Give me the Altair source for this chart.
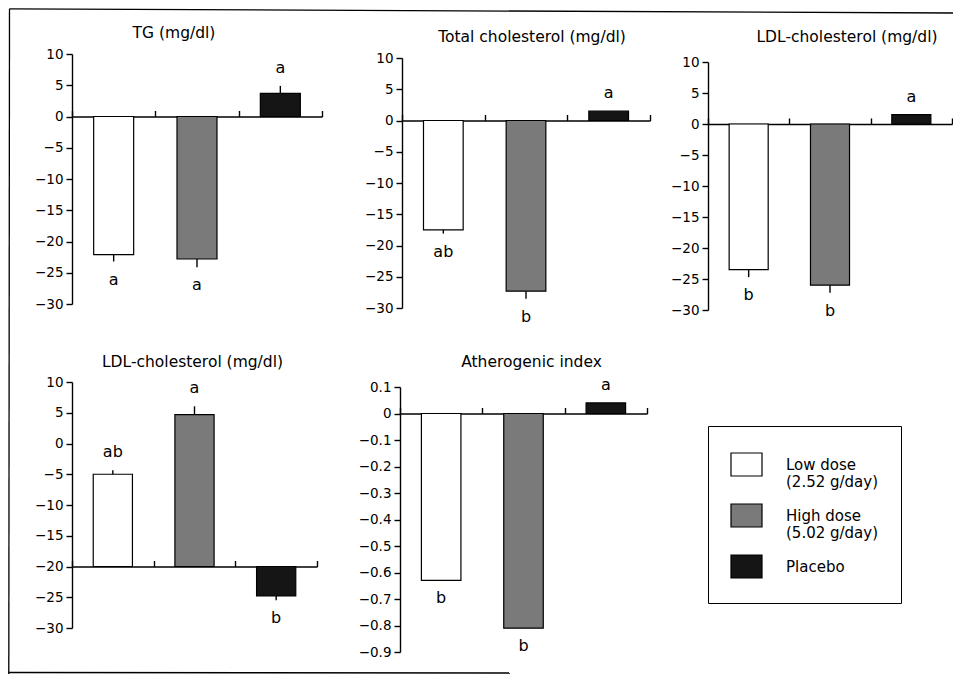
import altair as alt
import pandas as pd

# ---------------- data ----------------
groups = ["Low dose", "High dose", "Placebo"]
doses = ["(2.52 g/day)", "(5.02 g/day)", ""]
fills = ["#ffffff", "#7a7a7a", "#151515"]

titles = ["TG (mg/dl)", "Total cholesterol (mg/dl)", "LDL-cholesterol (mg/dl)",
          "LDL-cholesterol (mg/dl)", "Atherogenic index"]

tg_values = [-22.1, -22.8, 3.7]
tg_errors = [1.1, 1.3, 1.2]
tg_letters = ["a", "a", "a"]

tc_values = [-17.5, -27.3, 1.5]
tc_errors = [0.6, 1.2, 0.0]
tc_letters = ["ab", "b", "a"]

ldl_values = [-23.5, -26.0, 1.5]
ldl_errors = [1.2, 1.2, 0.0]
ldl_letters = ["b", "b", "a"]

ldl2_values = [-5.0, 4.7, -24.8]
ldl2_errors = [0.65, 1.35, 0.7]
ldl2_letters = ["ab", "a", "b"]

ai_values = [-0.63, -0.81, 0.04]
ai_errors = [0.0, 0.0, 0.0]
ai_letters = ["b", "b", "a"]

mgdl_ticks = [10, 5, 0, -5, -10, -15, -20, -25, -30]
ai_ticks = [0.1, 0, -0.1, -0.2, -0.3, -0.4, -0.5, -0.6, -0.7, -0.8, -0.9]

# ---------------- layout (pixels in chart coordinates) ----------------
W, H = 945, 666
FONT = "DejaVu Sans"
LW = 1.4

panels = [
    dict(vals=tg_values, errs=tg_errors, letters=tg_letters, dom=(-30, 10), base=0,
         ticks=mgdl_ticks, fmt="d", xr=(64, 314), yr=(46, 296), tdx=-23, tdy=-21),
    dict(vals=tc_values, errs=tc_errors, letters=tc_letters, dom=(-30, 10), base=0,
         ticks=mgdl_ticks, fmt="d", xr=(394, 642), yr=(50, 300), tdx=6, tdy=-21),
    dict(vals=ldl_values, errs=ldl_errors, letters=ldl_letters, dom=(-30, 10), base=0,
         ticks=mgdl_ticks, fmt="d", xr=(700, 944), yr=(54, 302), tdx=17, tdy=-25),
    dict(vals=ldl2_values, errs=ldl2_errors, letters=ldl2_letters, dom=(-30, 10), base=-20,
         ticks=mgdl_ticks, fmt="d", xr=(64, 309), yr=(374, 620), tdx=-2, tdy=-20),
    dict(vals=ai_values, errs=ai_errors, letters=ai_letters, dom=(-0.9, 0.1), base=0,
         ticks=ai_ticks, fmt=".1~f", xr=(392, 639), yr=(379, 644), tdx=8, tdy=-25),
]

parts = [f"datum.label === '{g}' ? ['{g}', '{d}']" for g, d in zip(groups, doses) if d]
label_expr = " : ".join(parts) + " : datum.label"

fill_enc = alt.Fill(
    "group:N", sort=groups,
    scale=alt.Scale(domain=groups, range=fills),
    legend=alt.Legend(
        orient="none", legendX=700, legendY=418, title=None,
        strokeColor="black", padding=22,
        symbolType="M-1,-0.742L1,-0.742L1,0.742L-1,0.742Z", symbolSize=961,
        symbolStrokeColor="black", symbolStrokeWidth=1.2,
        labelFont=FONT, labelFontSize=15, labelColor="black",
        labelOffset=23, rowPadding=9, labelExpr=label_expr,
    ),
)


def make_panel(title, p):
    lo, hi = p["dom"]
    base = p["base"]
    x0, x1 = p["xr"]
    ytop, ybot = p["yr"]
    yzero = ybot - (base - lo) / (hi - lo) * (ybot - ytop)
    rows = []
    for g, v, e, l in zip(groups, p["vals"], p["errs"], p["letters"]):
        d = 1 if v >= base else -1
        rows.append({"group": g, "value": v, "base": base, "tip": v + d * e,
                     "letter": l, "dir": d})
    df = pd.DataFrame(rows)

    def xs():
        return alt.Scale(domain=groups, range=[x0, x1], paddingInner=0, paddingOuter=0)

    def ys():
        return alt.Scale(domain=[lo, hi], range=[ybot, ytop], nice=False, zero=False)

    xenc = alt.X("group:N", sort=groups, scale=xs(),
                 axis=alt.Axis(orient="top", offset=-yzero, tickBand="extent",
                               labels=False, title=None, tickSize=6, grid=False,
                               domainColor="black", tickColor="black",
                               domainWidth=LW, tickWidth=LW))
    yenc = alt.Y("value:Q", scale=ys(),
                 axis=alt.Axis(orient="left", offset=-x0, values=p["ticks"],
                               format=p["fmt"], title=None, tickSize=6, grid=False,
                               labelFont=FONT, labelFontSize=13.5, labelColor="black",
                               labelPadding=3, domainColor="black", tickColor="black",
                               domainWidth=LW, tickWidth=LW))

    c = alt.Chart(df)
    bars = c.mark_bar(width=alt.RelativeBandSize(0.48), stroke="black",
                      strokeWidth=1.2).encode(x=xenc, y=yenc, y2="base:Q", fill=fill_enc)
    err = c.mark_rule(color="black", strokeWidth=LW).encode(
        x=alt.X("group:N", sort=groups, scale=xs(), axis=None),
        y=alt.Y("value:Q", scale=ys(), axis=None), y2="tip:Q")
    up = c.transform_filter("datum.dir > 0").mark_text(
        dy=-18, font=FONT, fontSize=16, color="black", baseline="middle"
    ).encode(x=alt.X("group:N", sort=groups, scale=xs(), axis=None),
             y=alt.Y("tip:Q", scale=ys(), axis=None), text="letter:N")
    down = c.transform_filter("datum.dir < 0").mark_text(
        dy=18, font=FONT, fontSize=16, color="black", baseline="middle"
    ).encode(x=alt.X("group:N", sort=groups, scale=xs(), axis=None),
             y=alt.Y("tip:Q", scale=ys(), axis=None), text="letter:N")
    ttl = alt.Chart(pd.DataFrame({"t": [title]})).mark_text(
        dx=p["tdx"], dy=p["tdy"], font=FONT, fontSize=15.5, color="black", baseline="middle"
    ).encode(x=alt.XDatum("High dose", type="nominal", scale=xs(), axis=None),
             y=alt.YDatum(hi, type="quantitative", scale=ys(), axis=None),
             text="t:N")
    return [bars, err, up, down, ttl]


layers = []
for t, p in zip(titles, panels):
    layers.extend(make_panel(t, p))

# scanned page frame (left, top and partial bottom edge)
frame_df = pd.DataFrame({"k": [0]})
frame_top = alt.Chart(frame_df).mark_rule(color="black", strokeWidth=1.3).encode(
    x=alt.value(1.5), x2=alt.value(W), y=alt.value(0.8), y2=alt.value(5))
frame_left = alt.Chart(frame_df).mark_rule(color="black", strokeWidth=1.3).encode(
    x=alt.value(1.5), x2=alt.value(0.8), y=alt.value(0.8), y2=alt.value(H))
frame_bottom = alt.Chart(frame_df).mark_rule(color="black", strokeWidth=1.3).encode(
    x=alt.value(0.8), x2=alt.value(502), y=alt.value(H - 1.5), y2=alt.value(H - 1))

chart = alt.layer(*layers, frame_top, frame_left, frame_bottom).resolve_scale(
    x="independent", y="independent"
).properties(
    width=W, height=H, padding=0,
    autosize=alt.AutoSizeParams(type="none"),
).configure_view(stroke=None)

chart.save("out.html", embed_options={"renderer": "svg", "actions": False})
